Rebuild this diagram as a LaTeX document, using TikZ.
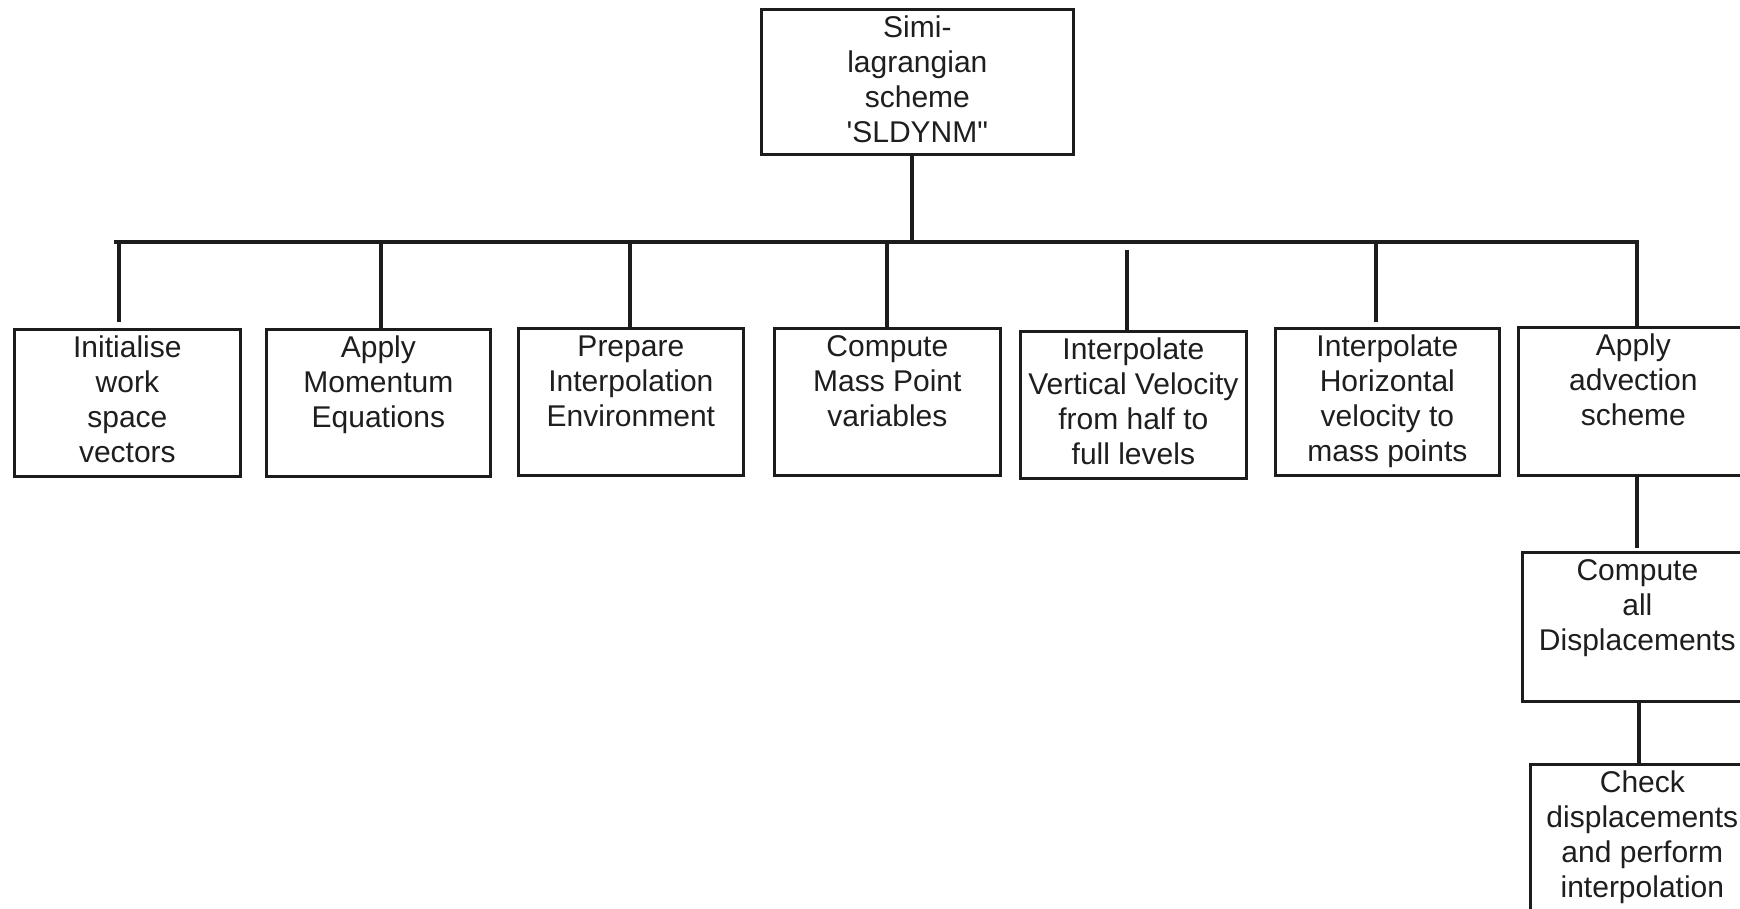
\documentclass[tikz,border=0pt]{standalone}
\usepackage{fontspec}
\setmainfont{Liberation Sans}
\usetikzlibrary{calc}

\definecolor{linec}{RGB}{28,28,28}
\definecolor{textc}{RGB}{30,30,30}

% box contents: fixed width/height, lines stacked from the top
\newcommand{\boxtext}[3]{\parbox[c][#2][t]{#1}{\centering\vspace*{1.6pt}\strut #3}}

\begin{document}
\begin{tikzpicture}[x=0.5pt,y=-0.5pt,
  box/.style={draw=linec, line width=1.35pt, inner sep=0pt, anchor=north west,
    text=textc, font=\fontsize{15}{17.5}\selectfont},
  wire/.style={draw=linec, line width=2.4pt}]

\useasboundingbox (0,0) rectangle (1740,909);
\fill[white] (0,0) rectangle (1740,909);
\clip (0,0) rectangle (1740,909);

% root of the call tree
\node[box] (root) at (760,8) {\boxtext{156pt}{72.5pt}{Simi-\\lagrangian\\scheme\\\textquotesingle SLDYNM\textquotedbl}};

% first level routines
\node[box] (b1) at (13,328)   {\boxtext{113pt}{73.5pt}{Initialise\\work\\space\\vectors}};
\node[box] (b2) at (265,328)  {\boxtext{112pt}{73.5pt}{Apply\\Momentum\\Equations}};
\node[box] (b3) at (517,327)  {\boxtext{112.5pt}{73.5pt}{Prepare\\Interpolation\\Environment}};
\node[box] (b4) at (773,327)  {\boxtext{113pt}{73.5pt}{Compute\\Mass Point\\variables}};
\node[box] (b5) at (1019,330) {\boxtext{113pt}{73.5pt}{Interpolate\\Vertical Velocity\\from half to\\full levels}};
\node[box] (b6) at (1274,327) {\boxtext{112pt}{73.5pt}{Interpolate\\Horizontal\\velocity to\\mass points}};
\node[box] (b7) at (1517,326) {\boxtext{115pt}{74pt}{Apply\\advection\\scheme}};

% advection sub-steps
\node[box] (b8) at (1521,551) {\boxtext{115pt}{74.5pt}{Compute\\all\\Displacements}};
\node[box] (b9) at (1529,763) {\boxtext{112pt}{80pt}{Check\\displacements\\and perform\\interpolation}};

% horizontal bus and its junctions
\coordinate (busL) at (114,242);
\coordinate (busR) at (1639,242);
\coordinate (jr) at (912,242);
\coordinate (j1) at (119,242);
\coordinate (j2) at (381,242);
\coordinate (j3) at (630,242);
\coordinate (j4) at (887,242);
\coordinate (j5) at (1127,242);
\coordinate (j6) at (1376,242);
\coordinate (j7) at (1637,242);

\draw[wire] (jr |- root.south) -- (jr);
\draw[wire] (busL) -- (busR);
\draw[wire] (j1) -- ($(j1 |- b1.north)+(0,-6)$);
\draw[wire] (j2) -- (j2 |- b2.north);
\draw[wire] (j3) -- (j3 |- b3.north);
\draw[wire] (j4) -- (j4 |- b4.north);
\draw[wire] ($(j5)+(0,8)$) -- (j5 |- b5.north);
\draw[wire] (j6) -- ($(j6 |- b6.north)+(0,-5)$);
\draw[wire] (j7) -- (j7 |- b7.north);

% vertical chain below the advection scheme
\coordinate (k7) at (1637,0);
\coordinate (k8) at (1639,0);
\draw[wire] (k7 |- b7.south) -- ($(k7 |- b8.north)+(0,-3)$);
\draw[wire] (k8 |- b8.south) -- (k8 |- b9.north);

\end{tikzpicture}
\end{document}
